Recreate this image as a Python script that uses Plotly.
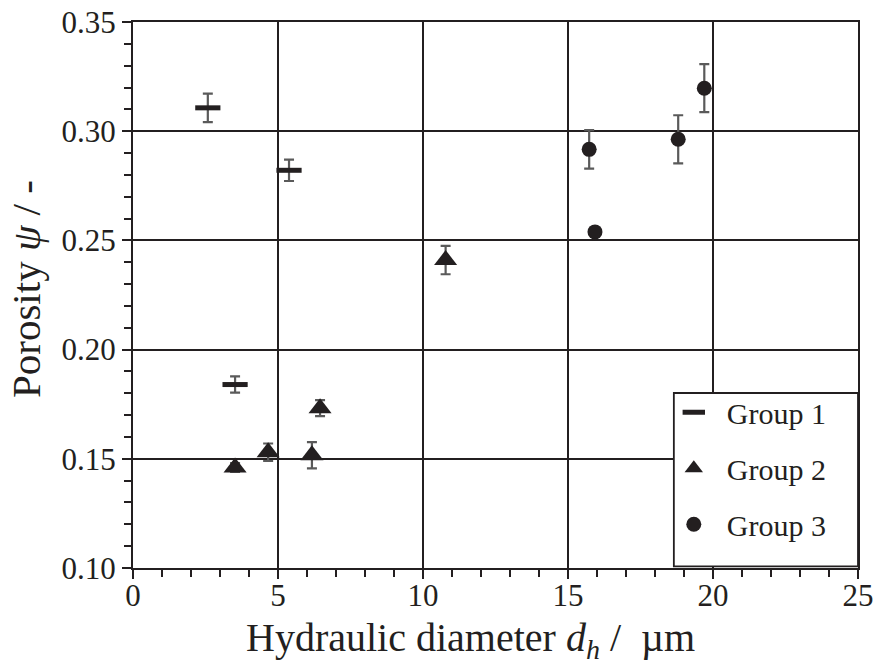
import plotly.graph_objects as go

# Group 1
g1_x = [2.58, 5.38, 3.52]
g1_y = [0.3107, 0.2821, 0.1840]
g1_err = [0.0065, 0.0049, 0.0037]

# Group 2
g2_x = [3.52, 4.66, 6.17, 6.45, 10.78]
g2_y = [0.1460, 0.1530, 0.1516, 0.1732, 0.2410]
g2_err = [0.0020, 0.0040, 0.0060, 0.0037, 0.0065]

# Group 3
g3_x = [15.73, 15.93, 18.80, 19.70]
g3_y = [0.2917, 0.2539, 0.2963, 0.3197]
g3_err = [0.0088, 0.0, 0.0110, 0.0110]

names = ["Group 1", "Group 2", "Group 3"]
x_title = "Hydraulic diameter <i>d<sub>h</sub></i> /  µm"
y_title = "Porosity <i>ψ</i> / -"

FONT = "Liberation Serif, Times New Roman, serif"
INK = "#231f20"
ERRC = "#5a5a5a"

fig = go.Figure()

def err(v):
    return dict(type="data", array=v, visible=True, color=ERRC, thickness=2.2, width=5)

fig.add_trace(go.Scatter(
    x=g1_x, y=g1_y, mode="markers", name=names[0], legendgroup="a",
    error_y=err(g1_err),
    marker=dict(symbol="line-ew", size=18, color=INK, line=dict(width=5, color=INK)),
))
fig.add_trace(go.Scatter(
    x=g2_x, y=g2_y, mode="markers", name=names[1], legendgroup="b",
    error_y=err(g2_err),
    marker=dict(symbol="triangle-up", size=20, color=INK, line=dict(width=0)),
))
fig.add_trace(go.Scatter(
    x=g3_x, y=g3_y, mode="markers", name=names[2], legendgroup="c",
    error_y=err(g3_err),
    marker=dict(symbol="circle", size=15, color=INK, line=dict(width=0)),
))

axis_common = dict(
    showline=True, linecolor=INK, linewidth=2, mirror=True,
    showgrid=True, gridcolor=INK, gridwidth=1.5,
    ticks="outside", ticklen=9, tickwidth=1.5, tickcolor=INK,
    zeroline=False, automargin=False,
    tickfont=dict(family=FONT, size=31, color=INK),
)

fig.update_xaxes(
    range=[0, 25], dtick=5, tick0=0, ticklabelstandoff=-10,
    minor=dict(dtick=1, ticks="outside", ticklen=7, tickwidth=1.5, tickcolor=INK, showgrid=False),
    **axis_common,
)
fig.update_yaxes(
    range=[0.10, 0.35], dtick=0.05, tick0=0.10, tickformat=".2f",
    minor=dict(dtick=0.01, ticks="outside", ticklen=7, tickwidth=1.5, tickcolor=INK, showgrid=False),
    **axis_common,
)

# axis titles
fig.add_annotation(text=x_title, xref="paper", yref="paper", x=0.465, y=-0.132,
                   xanchor="center", yanchor="middle", showarrow=False,
                   font=dict(family=FONT, size=40, color=INK))
fig.add_annotation(text=y_title, xref="paper", yref="paper", x=-0.1475, y=0.511,
                   xanchor="center", yanchor="middle", showarrow=False, textangle=-90,
                   font=dict(family=FONT, size=41, color=INK))

# legend frame
fig.add_shape(type="rect", xref="paper", yref="paper",
              x0=0.746, x1=1.0, y0=0.003, y1=0.3205,
              fillcolor="white", line=dict(color=INK, width=1.8), layer="above")

fig.update_layout(
    width=881, height=667,
    margin=dict(l=133, r=23, t=22, b=99),
    plot_bgcolor="white", paper_bgcolor="white",
    font=dict(family=FONT, color=INK),
    showlegend=True,
    legend=dict(
        x=0.728, y=0.333, xanchor="left", yanchor="top",
        bgcolor="rgba(0,0,0,0)", borderwidth=0,
        font=dict(family=FONT, size=30, color=INK),
        tracegroupgap=14, itemwidth=56,
    ),
)

fig.write_html("out.html")
